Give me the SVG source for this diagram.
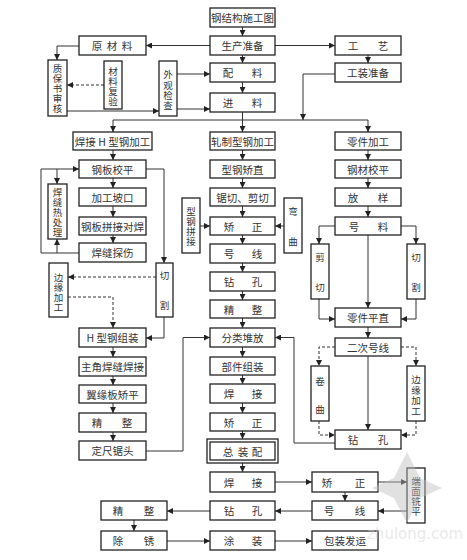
<svg xmlns="http://www.w3.org/2000/svg" width="467" height="560" viewBox="0 0 467 560">
<style>
.b{fill:#fff;stroke:#222;stroke-width:1.3}
.t{font-family:"Noto Sans CJK SC","Noto Sans",sans-serif;font-size:10.5px;fill:#333;text-anchor:middle;dominant-baseline:central}
.v{font-family:"Noto Sans CJK SC","Noto Sans",sans-serif;font-size:9.5px;fill:#333;text-anchor:middle;dominant-baseline:central}
.c{fill:none;stroke:#333;stroke-width:1;marker-end:url(#a)}
.n{fill:none;stroke:#333;stroke-width:1}
.d{fill:none;stroke:#333;stroke-width:1;stroke-dasharray:3 2;marker-end:url(#a)}
.wm{font-family:"DejaVu Sans",sans-serif;font-size:15px;fill:#cfcfcf}
</style>
<defs>
<marker id="a" markerWidth="6" markerHeight="6" refX="6" refY="3" orient="auto" markerUnits="userSpaceOnUse"><path d="M0,0 L6,3 L0,6 z" fill="#222"/></marker>
</defs>
<rect width="467" height="560" fill="#fff"/>
<g id="connectors">
<path class="c" d="M242.5,27 V36"/>
<path class="c" d="M210,45.5 H146"/>
<path class="c" d="M79,46 H57 V60"/>
<path class="d" d="M104,85 H67"/>
<path class="c" d="M67,111 H159"/>
<path class="c" d="M177,74 H210"/>
<path class="c" d="M177,109 H210"/>
<path class="c" d="M242.5,55 V63"/>
<path class="c" d="M242.5,82 V93"/>
<path class="c" d="M275,45.5 H335"/>
<path class="c" d="M368,55 V63"/>
<path class="c" d="M335,74 H303 V120"/>
<path class="n" d="M113,120 H368"/>
<path class="c" d="M242.5,112 V132"/>
<path class="c" d="M113,120 V132"/>
<path class="c" d="M368,120 V132"/>
<path class="c" d="M113,150 V160"/>
<path class="c" d="M113,178 V188"/>
<path class="c" d="M113,206 V217"/>
<path class="c" d="M113,235 V243"/>
<path class="c" d="M79,253 H41 V169 H79"/>
<path class="c" d="M57,169 V184"/>
<path class="c" d="M57,253 V239"/>
<path class="c" d="M146,169 H164 V263"/>
<path class="c" d="M164,317 V338 H146"/>
<path class="d" d="M156,277 H68"/>
<path class="d" d="M68,297 H113 V328"/>
<path class="c" d="M113,347 V357"/>
<path class="c" d="M113,376 V385"/>
<path class="c" d="M113,403 V413"/>
<path class="c" d="M113,432 V441"/>
<path class="c" d="M146,451 H183 V337.5 H210"/>
<path class="c" d="M242.5,150 V160"/>
<path class="c" d="M242.5,178 V188"/>
<path class="c" d="M242.5,206 V217"/>
<path class="c" d="M242.5,235 V244"/>
<path class="c" d="M242.5,263 V272"/>
<path class="c" d="M242.5,291 V300"/>
<path class="c" d="M242.5,318 V328"/>
<path class="c" d="M242.5,347 V357"/>
<path class="c" d="M242.5,375 V384"/>
<path class="c" d="M242.5,403 V413"/>
<path class="c" d="M242.5,431 V439"/>
<path class="c" d="M242.5,463 V472"/>
<path class="c" d="M200,226 H210"/>
<path class="c" d="M284,226 H275"/>
<path class="c" d="M368,150 V160"/>
<path class="c" d="M368,178 V188"/>
<path class="c" d="M368,206 V217"/>
<path class="c" d="M335,226 H319 V244"/>
<path class="c" d="M401,226 H416 V244"/>
<path class="c" d="M368,235 V308"/>
<path class="c" d="M319,299 V319 H335"/>
<path class="c" d="M416,299 V319 H401"/>
<path class="c" d="M368,327 V338"/>
<path class="d" d="M335,347 H319 V366"/>
<path class="d" d="M401,347 H416 V366"/>
<path class="c" d="M368,356 V430"/>
<path class="d" d="M319,421 V435 H335"/>
<path class="d" d="M416,421 V435 H401"/>
<path class="c" d="M335,443 H294 V337.5 H275"/>
<path class="c" d="M275,482 H312"/>
<path class="c" d="M345,492 V501"/>
<path class="c" d="M378,482 H407"/>
<path class="c" d="M407,511 H378"/>
<path class="c" d="M312,511 H275"/>
<path class="c" d="M210,511 H167"/>
<path class="c" d="M134,520 V531"/>
<path class="c" d="M167,541 H210"/>
<path class="c" d="M275,541 H312"/>
</g>
<g id="n1"><rect class="b" x="210" y="8" width="65" height="19"/><text class="t" x="242.5" y="17.5">钢结构施工图</text></g>
<g id="n2"><rect class="b" x="210" y="36" width="65" height="19"/><text class="t" x="242.5" y="45.5">生产准备</text></g>
<g id="n3"><rect class="b" x="79" y="36" width="67" height="19"/><text class="t" x="97 112 127" y="45.5">原材料</text></g>
<g id="n4"><rect class="b" x="335" y="36" width="66" height="19"/><text class="t" x="353 383" y="45.5">工艺</text></g>
<g id="n5"><rect class="b" x="335" y="63" width="66" height="19"/><text class="t" x="368" y="72.5">工装准备</text></g>
<g id="n6"><rect class="b" x="210" y="63" width="65" height="19"/><text class="t" x="228 257" y="72.5">配料</text></g>
<g id="n7"><rect class="b" x="210" y="93" width="65" height="19"/><text class="t" x="228 257" y="102.5">进料</text></g>
<g id="n8"><rect class="b" x="48" y="60" width="19" height="56"/><text class="v" x="57.5 57.5 57.5 57.5 57.5" y="68 78 88 98 108">质保书审核</text></g>
<g id="n9"><rect class="b" x="104" y="61" width="18" height="48"/><text class="v" x="113 113 113 113" y="71 81 91 101">材料复验</text></g>
<g id="n10"><rect class="b" x="159" y="61" width="18" height="55"/><text class="v" x="168 168 168 168" y="74 85 95 105">外观检查</text></g>
<g id="n11"><rect class="b" x="73" y="132" width="79" height="18"/><text class="t" x="112.5" y="141">焊接 H 型钢加工</text></g>
<g id="n12"><rect class="b" x="210" y="132" width="65" height="18"/><text class="t" x="242.5" y="141">轧制型钢加工</text></g>
<g id="n13"><rect class="b" x="335" y="132" width="66" height="18"/><text class="t" x="368" y="141">零件加工</text></g>
<g id="n14"><rect class="b" x="79" y="160" width="67" height="18"/><text class="t" x="112.5" y="169">钢板校平</text></g>
<g id="n15"><rect class="b" x="79" y="188" width="67" height="18"/><text class="t" x="112.5" y="197">加工坡口</text></g>
<g id="n16"><rect class="b" x="79" y="217" width="67" height="18"/><text class="t" x="112.5" y="226">钢板拼接对焊</text></g>
<g id="n17"><rect class="b" x="79" y="243" width="67" height="19"/><text class="t" x="112.5" y="252.5">焊缝探伤</text></g>
<g id="n18"><rect class="b" x="48" y="184" width="19" height="55"/><text class="v" x="57.5 57.5 57.5 57.5 57.5" y="192 202 212 222 232">焊缝热处理</text></g>
<g id="n19"><rect class="b" x="156" y="263" width="17" height="54"/><text class="v" x="164.5 164.5" y="275 305">切割</text></g>
<g id="n20"><rect class="b" x="49" y="263" width="19" height="54"/><text class="v" x="58.5 58.5 58.5 58.5" y="277 287 297 307">边缘加工</text></g>
<g id="n21"><rect class="b" x="79" y="328" width="67" height="19"/><text class="t" x="112.5" y="337.5">H 型钢组装</text></g>
<g id="n22"><rect class="b" x="79" y="357" width="67" height="19"/><text class="t" x="112.5" y="366.5">主角焊缝焊接</text></g>
<g id="n23"><rect class="b" x="79" y="385" width="67" height="18"/><text class="t" x="112.5" y="394">翼缘板矫平</text></g>
<g id="n24"><rect class="b" x="79" y="413" width="67" height="19"/><text class="t" x="97 127" y="422.5">精整</text></g>
<g id="n25"><rect class="b" x="79" y="441" width="67" height="19"/><text class="t" x="112.5" y="450.5">定尺锯头</text></g>
<g id="n26"><rect class="b" x="210" y="160" width="65" height="18"/><text class="t" x="242.5" y="169">型钢矫直</text></g>
<g id="n27"><rect class="b" x="210" y="188" width="65" height="18"/><text class="t" x="242.5" y="197">锯切、剪切</text></g>
<g id="n28"><rect class="b" x="210" y="217" width="65" height="18"/><text class="t" x="229 257" y="226">矫正</text></g>
<g id="n29"><rect class="b" x="210" y="244" width="65" height="19"/><text class="t" x="229 257" y="253.5">号线</text></g>
<g id="n30"><rect class="b" x="210" y="272" width="65" height="19"/><text class="t" x="229 257" y="281.5">钻孔</text></g>
<g id="n31"><rect class="b" x="210" y="300" width="65" height="18"/><text class="t" x="229 257" y="309">精整</text></g>
<g id="n32"><rect class="b" x="210" y="328" width="65" height="19"/><text class="t" x="242.5" y="337.5">分类堆放</text></g>
<g id="n33"><rect class="b" x="210" y="357" width="65" height="18"/><text class="t" x="242.5" y="366">部件组装</text></g>
<g id="n34"><rect class="b" x="210" y="384" width="65" height="19"/><text class="t" x="229 257" y="393.5">焊接</text></g>
<g id="n35"><rect class="b" x="210" y="413" width="65" height="18"/><text class="t" x="229 257" y="422">矫正</text></g>
<g id="n36"><rect class="b" x="207" y="439" width="71" height="24"/><rect class="b" x="210" y="442" width="65" height="18"/><text class="t" x="228 243 257" y="451">总装配</text></g>
<g id="n37"><rect class="b" x="210" y="472" width="65" height="20"/><text class="t" x="229 257" y="482">焊接</text></g>
<g id="n38"><rect class="b" x="210" y="501" width="65" height="19"/><text class="t" x="229 257" y="510.5">钻孔</text></g>
<g id="n39"><rect class="b" x="210" y="531" width="65" height="19"/><text class="t" x="229 257" y="540.5">涂装</text></g>
<g id="n40"><rect class="b" x="182" y="198" width="18" height="55"/><text class="v" x="191 191 191 191" y="211 220.5 230.5 240.5">型钢拼接</text></g>
<g id="n41"><rect class="b" x="284" y="198" width="18" height="55"/><text class="v" x="293 293" y="211 241">弯曲</text></g>
<g id="n42"><rect class="b" x="335" y="160" width="66" height="18"/><text class="t" x="368" y="169">钢材校平</text></g>
<g id="n43"><rect class="b" x="335" y="188" width="66" height="18"/><text class="t" x="353 383" y="197">放样</text></g>
<g id="n44"><rect class="b" x="335" y="217" width="66" height="18"/><text class="t" x="354 383" y="226">号料</text></g>
<g id="n45"><rect class="b" x="311" y="244" width="18" height="55"/><text class="v" x="320 320" y="257 287">剪切</text></g>
<g id="n46"><rect class="b" x="407" y="244" width="18" height="55"/><text class="v" x="416 416" y="257 287">切割</text></g>
<g id="n47"><rect class="b" x="335" y="308" width="66" height="19"/><text class="t" x="368" y="317.5">零件平直</text></g>
<g id="n48"><rect class="b" x="335" y="338" width="66" height="18"/><text class="t" x="368" y="347">二次号线</text></g>
<g id="n49"><rect class="b" x="311" y="366" width="18" height="55"/><text class="v" x="320 320" y="381 409">卷曲</text></g>
<g id="n50"><rect class="b" x="407" y="366" width="18" height="55"/><text class="v" x="416 416 416 416" y="379 389.5 400 410.5">边缘加工</text></g>
<g id="n51"><rect class="b" x="335" y="430" width="66" height="19"/><text class="t" x="353 383" y="439.5">钻孔</text></g>
<g id="n52"><rect class="b" x="312" y="472" width="66" height="20"/><text class="t" x="327 360" y="482">矫正</text></g>
<g id="n53"><rect class="b" x="312" y="501" width="66" height="19"/><text class="t" x="329 360" y="510.5">号线</text></g>
<g id="n54"><rect class="b" x="407" y="468" width="18" height="55"/><text class="v" x="416 416 416 416" y="481 491 501 511">端面铣平</text></g>
<g id="n55"><rect class="b" x="101" y="501" width="66" height="19"/><text class="t" x="118 149" y="510.5">精整</text></g>
<g id="n56"><rect class="b" x="101" y="531" width="66" height="19"/><text class="t" x="118 149" y="540.5">除锈</text></g>
<g id="n57"><rect class="b" x="312" y="531" width="66" height="19"/><text class="t" x="345" y="540.5">包装发运</text></g>
<g id="watermark" opacity="0.45">
<polygon points="407,452 420,478 442,488 420,498 407,523 394,498 372,488 394,478" fill="#bdbdbd"/>
<text class="wm" x="367" y="539">zhulong.com</text>
</g>
</svg>
